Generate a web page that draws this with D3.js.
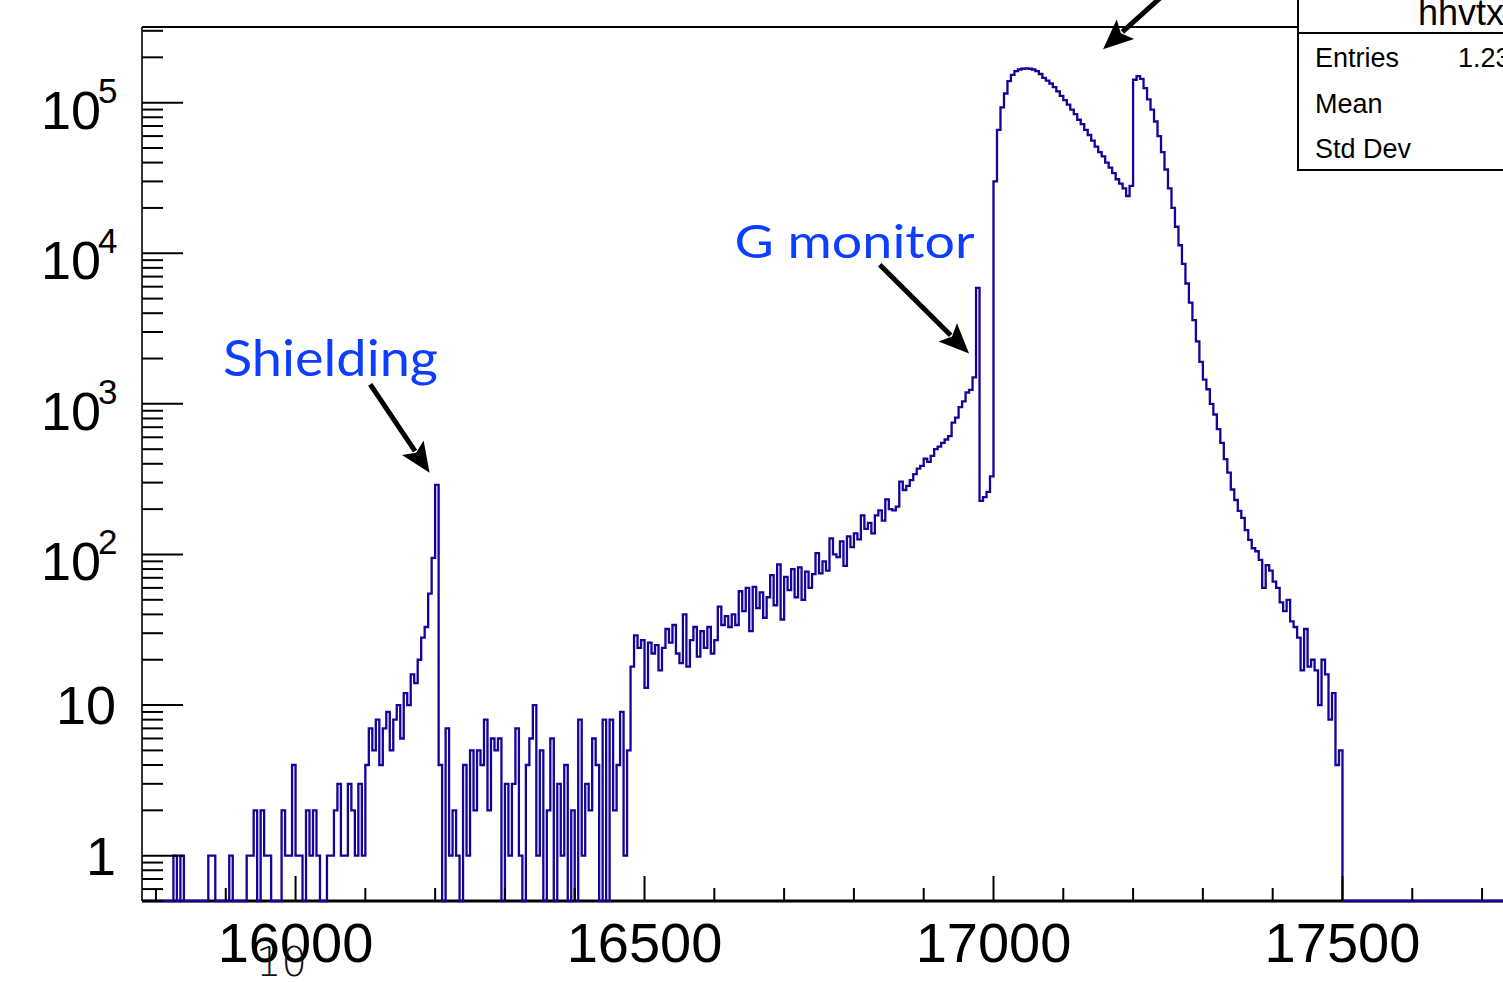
<!DOCTYPE html>
<html><head><meta charset="utf-8">
<script src="https://cdn.jsdelivr.net/npm/d3@7"></script>
<style>html,body{margin:0;padding:0;background:#fff;overflow:hidden}</style>
</head><body>
<svg id="c" width="1503" height="983"></svg>
<script>
// ---------------- DATA (counts per 5-unit bin, starting at 15780) ----------------
const binStart = 15780;
const binWidth = 5;
// 15780 - 16100
const countsLowTail = [0,0,0,0,0,0,0,0,0,1, 0,1,0,0,0,0,0,0,0,1, 1,0,0,0,0,1,0,0,0,0,
  1,1,2,0,2,1,1,0,0,0, 2,1,1,4,1,1,0,2,1,2, 1,0,0,1,1,2,3,1,1,3, 2,1,3,1];
// 16100 - 16205 (shielding peak)
const countsShielding = [4,7,5,8,4,7,9,5,8,10,6,12,10,16,14,20,28,33,55,95,290];
// 16205 - 16480
const countsGap = [4,0,7,1,2,1,0,4,1,5, 2,5,4,8,2,6,5,6,0,3, 1,3,7,1,0,4,6,10,1,5,
  0,2,6,0,3,1,4,0,2,0, 8,1,3,2,6,4,0,8,0,8, 2,4,9,1,5];
// 16480 - 16975
const countsRamp = [18,29,24,27,13,26,22,25,17,24,
  32,26,34,22,19,40,18,27,33,21,
  31,24,33,22,27,45,34,39,33,40,
  34,57,42,60,31,61,44,56,38,52,
  73,46,86,37,71,58,80,52,82,50,
  77,60,74,102,75,90,78,128,100,96,
  122,84,132,112,138,126,182,148,162,138,
  182,196,168,232,200,196,208,305,268,285,
  312,342,372,388,432,412,452,500,520,550,
  580,610,750,810,950,1040,1190,1240,1500];
// 16975 - 17000 (G monitor spike and dip)
const countsGMonitor = [5900,227,240,260,330];
// 17000 - 17295 (main double peak)
const countsMainPeak = [30000,66000,93000,115000,139000,153000,162000,166000,168000,169000,
  168000,166000,162000,155000,146000,140000,134000,127000,119000,111000,
  104000,97000,90000,84000,77000,72000,66000,61000,56000,51000,
  47000,44000,40000,37000,34000,31000,29000,27000,24000,28000,
  142000,150000,144000,125000,105000,90000,75000,60000,47000,36000,
  27000,20000,15000,11300,8500,6300,4700,3600,2600];
// 17295 - 17500
const countsRightTail = [1900,1450,1250,1000,850,680,550,430,350,270,
  230,195,175,145,125,110,105,92,60,85,
  78,66,60,48,42,50,36,33,28,17,
  32,18,20,17,10,20,16,8,12,4,5];

const xMajorTicks = [16000, 16500, 17000, 17500];
const xTickLabels = ["16000", "16500", "17000", "17500"];
const yMajorTicks = [1, 10, 100, 1000, 10000, 100000];
const yTickBase = ["1", "10", "10", "10", "10", "10"];
const yTickExp = ["", "", "2", "3", "4", "5"];
const statsTitle = "hhvtx";
const statsNames = ["Entries", "Mean", "Std Dev"];
const statsValues = ["1.234e+06", "", ""];
const annotations = [
  {text: "Shielding", tx: 15896, ty: 1520, size: 50, len: 215, x1: 16107, y1: 1345, x2: 16192, y2: 349},
  {text: "G monitor", tx: 16629, ty: 9350, size: 46, len: 240, x1: 16837, y1: 8400, x2: 16965, y2: 2160},
  {text: "", x1: 17262, y1: 620000, x2: 17157, y2: 226000}
];

// ---------------- CHART ----------------
(function () {
const counts = [].concat(countsLowTail, countsShielding, countsGap, countsRamp,
  countsGMonitor, countsMainPeak, countsRightTail);

const pL = 142, pT = 27, pB = 901, pR = 1503;
const x = d3.scaleLinear().domain([15780, 17730]).range([pL, pR]);
const y = d3.scaleLog().domain([0.5, 3.18e5]).range([pB, pT]);
const svg = d3.select("#c");
const histColor = "#15039a";
const font = "'Liberation Sans', Arial, Helvetica, sans-serif";

svg.append("defs").append("clipPath").attr("id", "plot")
  .append("rect").attr("x", pL).attr("y", pT - 1)
  .attr("width", pR - pL).attr("height", pB - pT + 3);

// frame top and left axis
svg.append("line").attr("x1", pL).attr("x2", pR).attr("y1", pT).attr("y2", pT)
  .attr("stroke", "#000").attr("stroke-width", 2);
svg.append("line").attr("x1", pL).attr("x2", pL).attr("y1", pT).attr("y2", pB)
  .attr("stroke", "#333").attr("stroke-width", 2);
// bottom axis line
svg.append("line").attr("x1", pL).attr("x2", pR).attr("y1", pB).attr("y2", pB)
  .attr("stroke", "#000").attr("stroke-width", 3);

// histogram outline
const yv = v => v > 0 ? y(v) : pB;
const p = d3.path();
p.moveTo(x(binStart), pB);
counts.forEach((v, i) => {
  const x0 = x(binStart + i * binWidth), x1 = x(binStart + (i + 1) * binWidth);
  const yy = yv(v);
  p.lineTo(x0, yy);
  p.lineTo(x1, yy);
});
p.lineTo(x(binStart + counts.length * binWidth), pB);
p.lineTo(x(17730), pB);
svg.append("path").attr("d", p.toString()).attr("fill", "none")
  .attr("stroke", histColor).attr("stroke-width", 2.3).attr("stroke-linejoin", "miter")
  .attr("clip-path", "url(#plot)");

// x ticks
const xMinor = d3.range(15800, 17730, 100);
svg.append("g").selectAll("line").data(xMinor).join("line")
  .attr("x1", d => x(d)).attr("x2", d => x(d))
  .attr("y1", pB).attr("y2", d => xMajorTicks.includes(d) ? pB - 25 : pB - 13)
  .attr("stroke", "#000").attr("stroke-width", 2);
svg.append("g").selectAll("text").data(xMajorTicks).join("text")
  .attr("x", d => x(d)).attr("y", 962).attr("text-anchor", "middle")
  .attr("font-family", font).attr("font-size", 56).attr("fill", "#000")
  .text((d, i) => xTickLabels[i]);
// stray exponent label
svg.append("text").attr("x", 256).attr("y", 976)
  .attr("font-family", "'DejaVu Sans', sans-serif").attr("font-weight", 200)
  .attr("font-size", 40).attr("fill", "#111").text("10");

// y ticks
const yMinor = [];
[-1, 0, 1, 2, 3, 4, 5].forEach(k => {
  for (let m = 2; m <= 9; m++) {
    const v = m * Math.pow(10, k);
    if (v >= 0.5 && v <= 3.18e5) yMinor.push(v);
  }
});
svg.append("g").selectAll("line").data(yMinor).join("line")
  .attr("x1", pL).attr("x2", pL + 21).attr("y1", d => y(d)).attr("y2", d => y(d))
  .attr("stroke", "#000").attr("stroke-width", 2);
svg.append("g").selectAll("line").data(yMajorTicks).join("line")
  .attr("x1", pL).attr("x2", pL + 41).attr("y1", d => y(d)).attr("y2", d => y(d))
  .attr("stroke", "#000").attr("stroke-width", 2);
const yl = svg.append("g");
yMajorTicks.forEach((v, i) => {
  if (yTickExp[i] === "") {
    yl.append("text").attr("x", 116).attr("y", y(v) + 19).attr("text-anchor", "end")
      .attr("font-family", font).attr("font-size", 54).text(yTickBase[i]);
  } else {
    yl.append("text").attr("x", 101).attr("y", y(v) + 26).attr("text-anchor", "end")
      .attr("font-family", font).attr("font-size", 54).text(yTickBase[i]);
    yl.append("text").attr("x", 98).attr("y", y(v) + 0).attr("text-anchor", "start")
      .attr("font-family", font).attr("font-size", 35).text(yTickExp[i]);
  }
});

// annotations
const blue = "#0d3dff";
function arrow(a) {
  const X1 = x(a.x1), Y1 = y(a.y1), X2 = x(a.x2), Y2 = y(a.y2);
  const dx = X2 - X1, dy = Y2 - Y1, L = Math.hypot(dx, dy);
  const ux = dx / L, uy = dy / L, hl = 30, hw = 13;
  const bx = X2 - ux * hl, by = Y2 - uy * hl;
  svg.append("line").attr("x1", X1).attr("y1", Y1).attr("x2", bx + ux * 4).attr("y2", by + uy * 4)
    .attr("stroke", "#000").attr("stroke-width", 5);
  svg.append("path").attr("d",
    `M${X2},${Y2} L${bx - uy * hw},${by + ux * hw} L${bx + ux * 6},${by + uy * 6} L${bx + uy * hw},${by - ux * hw} Z`)
    .attr("fill", "#000");
}
annotations.forEach(a => {
  arrow(a);
  if (a.text) {
    svg.append("text").attr("x", x(a.tx)).attr("y", y(a.ty))
      .attr("font-family", "Lato, 'Open Sans', sans-serif").attr("font-size", a.size)
      .attr("fill", blue).attr("textLength", a.len).attr("lengthAdjust", "spacingAndGlyphs")
      .text(a.text);
  }
});

// stats box
const sb = svg.append("g");
sb.append("rect").attr("x", 1298).attr("y", -5).attr("width", 300).attr("height", 175)
  .attr("fill", "#fff").attr("stroke", "#000").attr("stroke-width", 2);
sb.append("line").attr("x1", 1298).attr("x2", 1503).attr("y1", 33).attr("y2", 33)
  .attr("stroke", "#000").attr("stroke-width", 2);
sb.append("text").attr("x", 1418).attr("y", 25).attr("font-family", font)
  .attr("font-size", 36).text(statsTitle);
statsNames.forEach((n, i) => {
  sb.append("text").attr("x", 1315).attr("y", 67 + i * 45.5).attr("font-family", font)
    .attr("font-size", 27).text(n);
  sb.append("text").attr("x", 1458).attr("y", 67 + i * 45.5).attr("font-family", font)
    .attr("font-size", 27).text(statsValues[i]);
});
})();
</script>
</body></html>
